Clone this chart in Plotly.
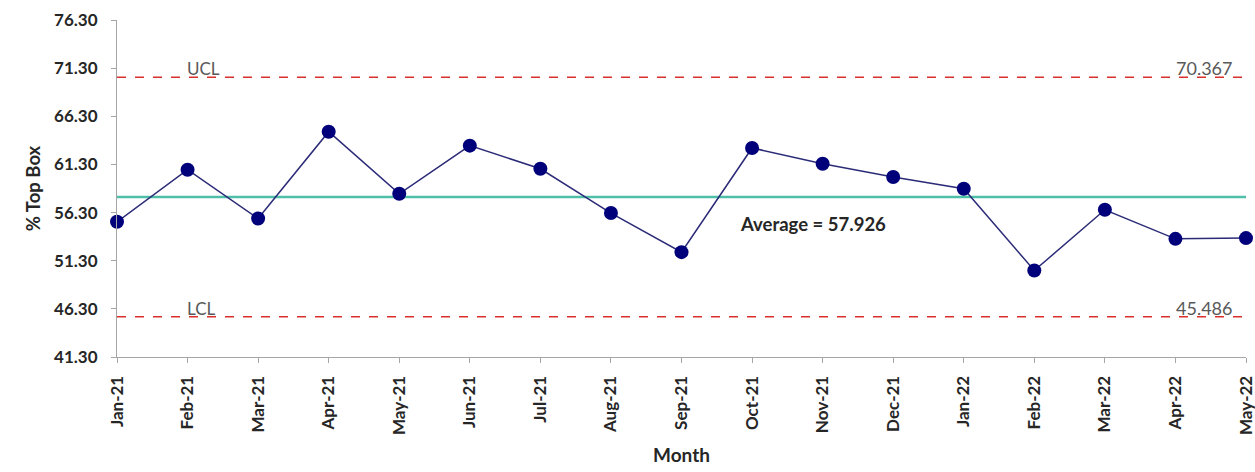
import plotly.graph_objects as go

months = ["Jan-21", "Feb-21", "Mar-21", "Apr-21", "May-21", "Jun-21", "Jul-21", "Aug-21",
          "Sep-21", "Oct-21", "Nov-21", "Dec-21", "Jan-22", "Feb-22", "Mar-22", "Apr-22", "May-22"]
pct_top_box = [55.34, 60.75, 55.68, 64.70, 58.25, 63.25, 60.85, 56.25,
               52.19, 63.01, 61.37, 59.99, 58.77, 50.28, 56.59, 53.57, 53.65]
average = 57.926
ucl = 70.367
lcl = 45.486
y_ticks = [41.30, 46.30, 51.30, 56.30, 61.30, 66.30, 71.30, 76.30]

xs = list(range(len(months)))
font_family = "Lato, 'Open Sans', sans-serif"

fig = go.Figure()
fig.add_trace(go.Scatter(x=[xs[0], xs[-1]], y=[ucl, ucl], mode="lines",
                         line=dict(color="#d9302c", width=1.5, dash="dash"), hoverinfo="skip"))
fig.add_trace(go.Scatter(x=[xs[0], xs[-1]], y=[lcl, lcl], mode="lines",
                         line=dict(color="#d9302c", width=1.5, dash="dash"), hoverinfo="skip"))
fig.add_trace(go.Scatter(x=[xs[0], xs[-1]], y=[average, average], mode="lines",
                         line=dict(color="#4fbfa8", width=2.5), hoverinfo="skip"))
fig.add_trace(go.Scatter(x=xs, y=pct_top_box, mode="lines+markers", cliponaxis=False,
                         line=dict(color="#2b2b78", width=1.5),
                         marker=dict(color="#00007a", size=14)))

label_font = dict(family=font_family, size=17, color="#595959")
num_font = dict(family=font_family, size=18, color="#595959")
fig.add_annotation(x=1, y=ucl, text="UCL", showarrow=False, xanchor="left", yanchor="bottom",
                   font=label_font, xshift=-3, yshift=-4)
fig.add_annotation(x=15.8, y=ucl, text="70.367", showarrow=False, xanchor="right", yanchor="bottom",
                   font=num_font, xshift=2, yshift=-4)
fig.add_annotation(x=1, y=lcl, text="LCL", showarrow=False, xanchor="left", yanchor="bottom",
                   font=label_font, xshift=-3, yshift=-4)
fig.add_annotation(x=15.8, y=lcl, text="45.486", showarrow=False, xanchor="right", yanchor="bottom",
                   font=num_font, xshift=2, yshift=-4)
fig.add_annotation(x=8.8, y=average, text="<b>Average = 57.926</b>", showarrow=False,
                   xanchor="left", yanchor="top", yshift=-14,
                   font=dict(family=font_family, size=18.5, color="#262626"))

fig.update_layout(
    width=1255, height=472,
    margin=dict(l=117, r=9, t=20, b=115),
    plot_bgcolor="white", paper_bgcolor="white",
    showlegend=False,
    font=dict(family=font_family, color="#404040"),
)
fig.update_xaxes(
    range=[0, 16], tickmode="array", tickvals=xs, ticktext=[f"<b>{m}</b>" for m in months],
    tickangle=-90, tickfont=dict(size=17, color="#262626"),
    showline=True, linecolor="#a6a6a6", linewidth=1, ticks="outside", ticklen=5,
    tickcolor="#a6a6a6", showgrid=False, zeroline=False, automargin=False,
    ticklabelstandoff=6, ticklabeloverflow="allow",
    title=dict(text="<b>Month</b>", font=dict(size=19, color="#262626"), standoff=14),
)
fig.update_yaxes(
    range=[41.3, 76.3], tickmode="array", tickvals=y_ticks,
    ticktext=[f"<b>{v:.2f}</b>" for v in y_ticks],
    tickfont=dict(size=17, color="#262626"),
    showline=True, linecolor="#a6a6a6", linewidth=1, ticks="outside", ticklen=5,
    tickcolor="#a6a6a6", showgrid=False, zeroline=False, automargin=False,
    ticklabelstandoff=10, ticklabeloverflow="allow",
    title=dict(text="<b>% Top Box</b>", font=dict(size=18.5, color="#262626"), standoff=8),
)

fig.write_html("out.html")
